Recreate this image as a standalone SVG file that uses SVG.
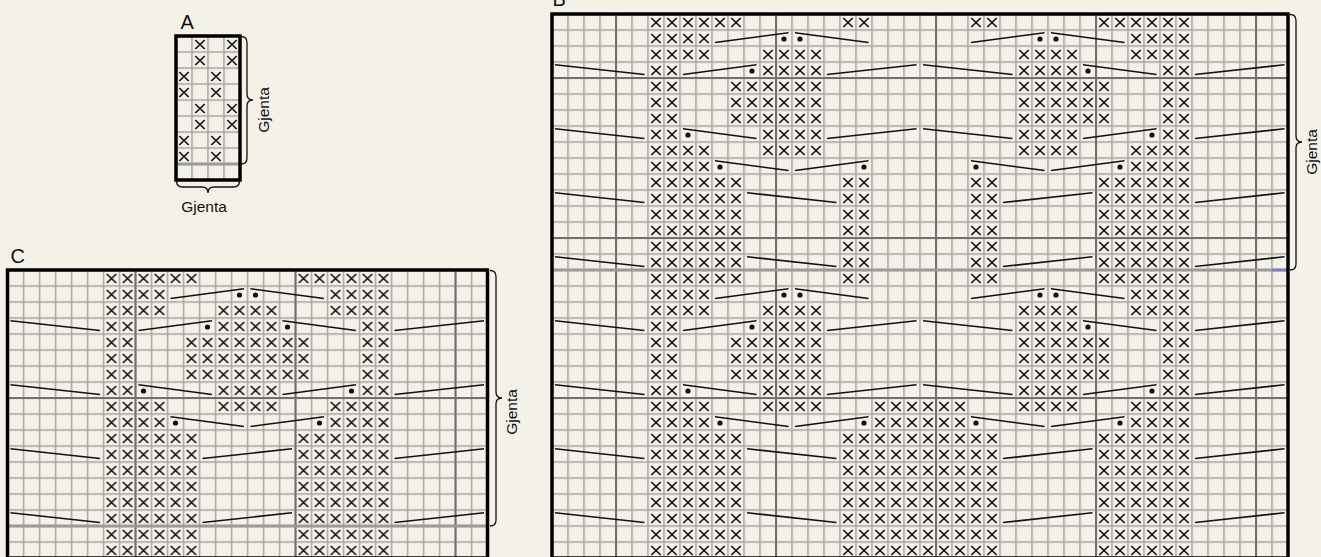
<svg xmlns="http://www.w3.org/2000/svg" width="1321" height="557" viewBox="0 0 1321 557">
<style>
.lbl{font-family:"Liberation Sans",Arial,sans-serif;font-size:20px;fill:#111}
.gj{font-family:"Liberation Sans",Arial,sans-serif;font-size:15.5px;fill:#111}
.grid{fill:url(#grid)}
.xs{fill:url(#xp)}
.heavy{stroke:#707070;stroke-width:2;fill:none}
.rep{stroke:#9a9a9a;stroke-width:3.2;fill:none}
.sl{stroke:#111;stroke-width:1.6;fill:none}
.dot{fill:#111}
.border{fill:none;stroke:#000;stroke-width:3.5}
.br{fill:none;stroke:#111;stroke-width:1.3}
</style>
<defs>
<pattern id="grid" width="16" height="16" patternUnits="userSpaceOnUse" x="-0.75" y="-0.75">
<rect width="16" height="1.5" fill="#a4a4a4"/>
<rect width="1.5" height="16" fill="#a4a4a4"/>
</pattern>
<pattern id="xp" width="16" height="16" patternUnits="userSpaceOnUse">
<path d="M3.3 4L12.7 13M3.3 13L12.7 4" stroke="#111" stroke-width="1.7" fill="none"/>
</pattern>
</defs>
<rect width="1321" height="557" fill="#f4f1e8"/>

<g id="chart-a" transform="translate(176,36)">
<rect class="grid" width="64" height="144"/>
<g id="a-stitches">
<rect class="xs" x="16" y="0" width="16" height="32"/>
<rect class="xs" x="48" y="0" width="16" height="32"/>
<rect class="xs" x="0" y="32" width="16" height="32"/>
<rect class="xs" x="32" y="32" width="16" height="32"/>
<rect class="xs" x="16" y="64" width="16" height="32"/>
<rect class="xs" x="48" y="64" width="16" height="32"/>
<rect class="xs" x="0" y="96" width="16" height="32"/>
<rect class="xs" x="32" y="96" width="16" height="32"/>
</g>
<path class="rep" d="M0 128H64"/>
<rect class="border" width="64" height="144"/>
</g>
<g id="label-a">
<text class="lbl" x="180.5" y="29">A</text>
<path class="br" d="M241 36.5Q247 36.5 247 42.5V94Q247 100 253 100Q247 100 247 106V158Q247 164 241 164"/>
<text class="gj" text-anchor="middle" transform="translate(269,110) rotate(-90)">Gjenta</text>
<path class="br" d="M176.5 181Q176.5 187 182.5 187H202Q208 187 208 193Q208 187 214 187H233.5Q239.5 187 239.5 181"/>
<text class="gj" text-anchor="middle" x="204" y="212">Gjenta</text>
</g>

<g id="chart-b" transform="translate(552,14)">
<rect class="grid" width="736" height="544"/>
<path class="heavy" d="M64 0V544M224 0V544M384 0V544M544 0V544M704 0V544M0 64H736M0 224H736M0 384H736"/>
<path class="rep" d="M0 256H720"/>
<path d="M720 256H736" stroke="#8080c4" stroke-width="3.2"/>
<g id="b-stitches">
<rect class="xs" x="96" y="0" width="32" height="544"/>
<rect class="xs" x="128" y="0" width="32" height="48"/>
<rect class="xs" x="128" y="128" width="32" height="176"/>
<rect class="xs" x="128" y="384" width="32" height="160"/>
<rect class="xs" x="160" y="0" width="32" height="16"/>
<rect class="xs" x="160" y="160" width="32" height="112"/>
<rect class="xs" x="160" y="416" width="32" height="128"/>
<rect class="xs" x="176" y="64" width="32" height="48"/>
<rect class="xs" x="176" y="320" width="32" height="48"/>
<rect class="xs" x="208" y="32" width="64" height="112"/>
<rect class="xs" x="208" y="288" width="64" height="112"/>
<rect class="xs" x="288" y="0" width="32" height="16"/>
<rect class="xs" x="288" y="160" width="32" height="112"/>
<rect class="xs" x="288" y="416" width="32" height="128"/>
<rect class="xs" x="320" y="384" width="96" height="160"/>
<rect class="xs" x="416" y="0" width="32" height="16"/>
<rect class="xs" x="416" y="160" width="32" height="112"/>
<rect class="xs" x="416" y="416" width="32" height="128"/>
<rect class="xs" x="464" y="32" width="64" height="112"/>
<rect class="xs" x="464" y="288" width="64" height="112"/>
<rect class="xs" x="528" y="64" width="32" height="48"/>
<rect class="xs" x="528" y="320" width="32" height="48"/>
<rect class="xs" x="544" y="0" width="32" height="16"/>
<rect class="xs" x="544" y="160" width="32" height="112"/>
<rect class="xs" x="544" y="416" width="32" height="128"/>
<rect class="xs" x="576" y="0" width="32" height="48"/>
<rect class="xs" x="576" y="128" width="32" height="176"/>
<rect class="xs" x="576" y="384" width="32" height="160"/>
<rect class="xs" x="608" y="0" width="32" height="544"/>
</g>
<g id="b-slips">
<path class="sl" d="M163 28.5L236.5 18.8M243 18.8L316.5 28.5M419 28.5L492.5 18.8M499 18.8L572.5 28.5
M163 284.5L236.5 274.8M243 274.8L316.5 284.5M419 284.5L492.5 274.8M499 274.8L572.5 284.5
M3 50.8L92.5 60.5M131 60.5L204.5 50.8M275 60.5L364.5 50.8M371 50.8L460.5 60.5M531 50.8L604.5 60.5M643 60.5L732.5 50.8
M3 306.8L92.5 316.5M131 316.5L204.5 306.8M275 316.5L364.5 306.8M371 306.8L460.5 316.5M531 306.8L604.5 316.5M643 316.5L732.5 306.8
M3 114.8L92.5 124.5M131 114.8L204.5 124.5M275 124.5L364.5 114.8M371 114.8L460.5 124.5M531 124.5L604.5 114.8M643 124.5L732.5 114.8
M3 370.8L92.5 380.5M131 370.8L204.5 380.5M275 380.5L364.5 370.8M371 370.8L460.5 380.5M531 380.5L604.5 370.8M643 380.5L732.5 370.8
M163 146.8L236.5 156.5M243 156.5L316.5 146.8M419 146.8L492.5 156.5M499 156.5L572.5 146.8
M163 402.8L236.5 412.5M243 412.5L316.5 402.8M419 402.8L492.5 412.5M499 412.5L572.5 402.8
M3 178.8L92.5 188.5M195 178.8L284.5 188.5M451 188.5L540.5 178.8M643 188.5L732.5 178.8
M3 242.8L92.5 252.5M195 242.8L284.5 252.5M451 252.5L540.5 242.8M643 252.5L732.5 242.8
M3 434.8L92.5 444.5M195 434.8L284.5 444.5M451 444.5L540.5 434.8M643 444.5L732.5 434.8
M3 498.8L92.5 508.5M195 498.8L284.5 508.5M451 508.5L540.5 498.8M643 508.5L732.5 498.8"/>
<g class="dot">
<circle cx="232" cy="25" r="2.6"/><circle cx="248" cy="25" r="2.6"/><circle cx="488" cy="25" r="2.6"/><circle cx="504" cy="25" r="2.6"/>
<circle cx="232" cy="281" r="2.6"/><circle cx="248" cy="281" r="2.6"/><circle cx="488" cy="281" r="2.6"/><circle cx="504" cy="281" r="2.6"/>
<circle cx="200" cy="57" r="2.6"/><circle cx="536" cy="57" r="2.6"/>
<circle cx="200" cy="313" r="2.6"/><circle cx="536" cy="313" r="2.6"/>
<circle cx="136" cy="121" r="2.6"/><circle cx="600" cy="121" r="2.6"/>
<circle cx="136" cy="377" r="2.6"/><circle cx="600" cy="377" r="2.6"/>
<circle cx="168" cy="153" r="2.6"/><circle cx="312" cy="153" r="2.6"/><circle cx="424" cy="153" r="2.6"/><circle cx="568" cy="153" r="2.6"/>
<circle cx="168" cy="409" r="2.6"/><circle cx="312" cy="409" r="2.6"/><circle cx="424" cy="409" r="2.6"/><circle cx="568" cy="409" r="2.6"/>
</g>
</g>
<rect class="border" width="736" height="544"/>
</g>
<g id="label-b">
<text class="lbl" x="552.5" y="5.5">B</text>
<path class="br" d="M1290 14.5Q1296 14.5 1296 20.5V136Q1296 142 1302 142Q1296 142 1296 148V264Q1296 270 1290 270"/>
<text class="gj" text-anchor="middle" transform="translate(1317,152) rotate(-90)">Gjenta</text>
</g>

<g id="chart-c" transform="translate(7.5,270)">
<rect class="grid" width="480" height="288"/>
<path class="heavy" d="M128 0V288M288 0V288M448 0V288M0 128H480"/>
<path class="rep" d="M0 256H480"/>
<g id="c-stitches">
<rect class="xs" x="96" y="0" width="32" height="288"/>
<rect class="xs" x="128" y="0" width="32" height="48"/>
<rect class="xs" x="128" y="128" width="32" height="160"/>
<rect class="xs" x="160" y="0" width="32" height="16"/>
<rect class="xs" x="160" y="160" width="32" height="128"/>
<rect class="xs" x="176" y="64" width="32" height="48"/>
<rect class="xs" x="208" y="32" width="64" height="112"/>
<rect class="xs" x="272" y="64" width="32" height="48"/>
<rect class="xs" x="288" y="0" width="32" height="16"/>
<rect class="xs" x="288" y="160" width="32" height="128"/>
<rect class="xs" x="320" y="0" width="32" height="48"/>
<rect class="xs" x="320" y="128" width="32" height="160"/>
<rect class="xs" x="352" y="0" width="32" height="288"/>
</g>
<g id="c-slips">
<path class="sl" d="M163 28.5L236.5 18.8M243 18.8L316.5 28.5
M3 50.8L92.5 60.5M131 60.5L204.5 50.8M275 50.8L348.5 60.5M387 60.5L476.5 50.8
M3 114.8L92.5 124.5M131 114.8L204.5 124.5M275 124.5L348.5 114.8M387 124.5L476.5 114.8
M163 146.8L236.5 156.5M243 156.5L316.5 146.8
M3 178.8L92.5 188.5M195 188.5L284.5 178.8M387 188.5L476.5 178.8
M3 242.8L92.5 252.5M195 252.5L284.5 242.8M387 252.5L476.5 242.8"/>
<g class="dot">
<circle cx="232" cy="25" r="2.6"/><circle cx="248" cy="25" r="2.6"/>
<circle cx="200" cy="57" r="2.6"/><circle cx="280" cy="57" r="2.6"/>
<circle cx="136" cy="121" r="2.6"/><circle cx="344" cy="121" r="2.6"/>
<circle cx="168" cy="153" r="2.6"/><circle cx="312" cy="153" r="2.6"/>
</g>
</g>
<rect class="border" width="480" height="288"/>
</g>
<g id="label-c">
<text class="lbl" x="10.5" y="263">C</text>
<path class="br" d="M490 270.5Q496 270.5 496 276.5V392Q496 398 502 398Q496 398 496 404V520Q496 526 490 526"/>
<text class="gj" text-anchor="middle" transform="translate(517,412) rotate(-90)">Gjenta</text>
</g>
</svg>
